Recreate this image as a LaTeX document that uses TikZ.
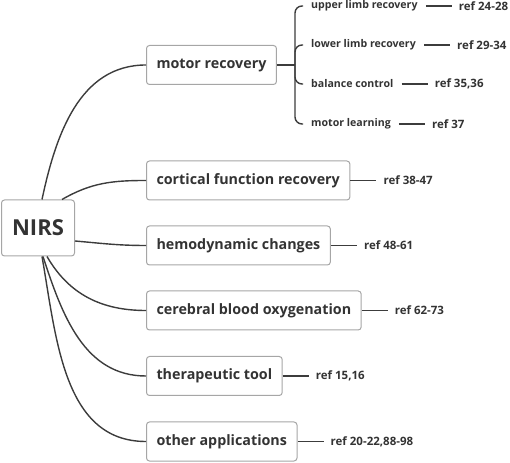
\documentclass[tikz,border=0pt]{standalone}
\usepackage{fontspec}
\setmainfont{Open Sans}
\usetikzlibrary{positioning}
\definecolor{inkgray}{HTML}{333333}
\definecolor{framegray}{HTML}{A6A6A6}
\definecolor{linegray}{HTML}{3C3C3C}
\begin{document}
\begin{tikzpicture}[x=1pt,y=1pt,node distance=26pt,
                    root node/.style={draw=framegray,fill=white,rounded corners=3pt,line width=1pt,
                      minimum width=73pt,minimum height=56pt,text=inkgray,
                      font=\fontsize{22}{26}\selectfont\bfseries},
                    topic node/.style={draw=framegray,fill=white,rounded corners=3pt,line width=1pt,
                      anchor=west,minimum height=39pt,inner xsep=10pt,text=inkgray,
                      font=\fontsize{14.3}{17}\selectfont\bfseries},
                    sub node/.style={anchor=west,inner xsep=8pt,inner ysep=2pt,text=inkgray,
                      font=\fontsize{10.6}{12}\selectfont\bfseries},
                    ref node/.style={inner xsep=7pt,inner ysep=2pt,text=inkgray,
                      font=\fontsize{11.5}{13}\selectfont\bfseries},
                    link/.style={draw=linegray,line width=1.4pt}
                   ]
   \useasboundingbox (0,0) rectangle (510,462);
   % root and main topics
   \node[root node] (nirs) at (38,234) {NIRS};
   \node[topic node] (motor) at (146,397) {motor recovery};
   \node[topic node] (cortical) at (146,281.5) {cortical function recovery};
   \node[topic node] (hemo) at (146,216.5) {hemodynamic changes};
   \node[topic node] (cerebral) at (146,151.5) {cerebral blood oxygenation};
   \node[topic node] (thera) at (146,86) {therapeutic tool};
   \node[topic node] (other) at (146,20.5) {other applications};
   % motor recovery subtopics
   \coordinate (fork) at (295,397);
   \node[sub node] (upper) at (303,456) {upper limb recovery};
   \node[sub node] (lower) at (303,417) {lower limb recovery};
   \node[sub node] (balance) at (303,378) {balance control};
   \node[sub node] (learning) at (303,338) {motor learning};
   % references
   \node[ref node,right=of upper] (rupper) {ref 24-28};
   \node[ref node,right=of lower] (rlower) {ref 29-34};
   \node[ref node,right=of balance] (rbalance) {ref 35,36};
   \node[ref node,right=of learning] (rlearning) {ref 37};
   \node[ref node,right=of cortical] (rcortical) {ref 38-47};
   \node[ref node,right=of hemo] (rhemo) {ref 48-61};
   \node[ref node,right=of cerebral] (rcerebral) {ref 62-73};
   \node[ref node,right=of thera] (rthera) {ref 15,16};
   \node[ref node,right=of other] (rother) {ref 20-22,88-98};
   % curved branches from the root
   \draw[link] ([xshift=4pt]nirs.north) to[out=78,in=180] (motor.west);
   \draw[link] ([xshift=24pt]nirs.north) to[out=30,in=180] (cortical.west);
   \draw[link] ([yshift=-13pt]nirs.east) to[out=-5,in=180] (hemo.west);
   \draw[link] ([xshift=9pt]nirs.south) to[out=-60,in=180] (cerebral.west);
   \draw[link] ([xshift=5pt]nirs.south) to[out=-72,in=180] (thera.west);
   \draw[link] ([xshift=4pt]nirs.south) to[out=-80,in=180] (other.west);
   % bracket of motor recovery
   \draw[link] (motor.east) -- (fork);
   \draw[link,rounded corners=7pt] (fork) |- (upper.west);
   \draw[link,rounded corners=7pt] (fork) |- (lower.west);
   \draw[link,rounded corners=7pt] (fork) |- (balance.west);
   \draw[link,rounded corners=7pt] (fork) |- (learning.west);
   \path[link]%
     (upper) edge (rupper)
     (lower) edge (rlower)
     (balance) edge (rbalance)
     (learning) edge (rlearning)
     (cortical) edge (rcortical)
     (hemo) edge (rhemo)
     (cerebral) edge (rcerebral)
     (thera) edge (rthera)
     (other) edge (rother);
\end{tikzpicture}
\end{document}
